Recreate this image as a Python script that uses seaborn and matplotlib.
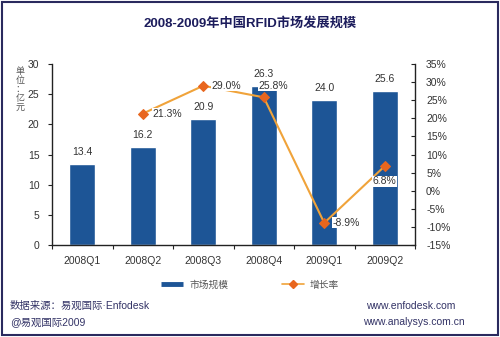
import numpy as np
import pandas as pd
import matplotlib
matplotlib.use("Agg")
import matplotlib.pyplot as plt
import seaborn as sns
from matplotlib.lines import Line2D
from matplotlib.patches import Rectangle

categories = ["2008Q1", "2008Q2", "2008Q3", "2008Q4", "2009Q1", "2009Q2"]
market_size = [13.4, 16.2, 20.9, 26.3, 24.0, 25.6]
growth_cats = ["2008Q2", "2008Q3", "2008Q4", "2009Q1", "2009Q2"]
growth_rate = [21.3, 29.0, 25.8, -8.9, 6.8]
left_ticks = [0, 5, 10, 15, 20, 25, 30]
right_ticks = [-15, -10, -5, 0, 5, 10, 15, 20, 25, 30, 35]

sns.set_style("white")
plt.rcParams['font.family'] = ['Liberation Sans', 'Noto Sans CJK SC', 'DejaVu Sans']

BAR = "#1d5596"
LINE = "#f0a33a"
MARK = "#e8661e"
TXT = "#333333"

fig = plt.figure(figsize=(5.0, 3.37), dpi=100)
ax = fig.add_axes([0.104, 0.273, 0.726, 0.537])

df = pd.DataFrame({"cat": categories, "val": market_size})
sns.barplot(data=df, x="cat", y="val", color=BAR, width=0.43, ax=ax,
            order=categories, saturation=1)
ax.set_xlim(-0.5, len(categories) - 0.5)
ax.set_ylim(0, 30)
ax.set_yticks(left_ticks)
ax.set_xlabel("")
ax.set_ylabel("")
for s in ["top", "right"]:
    ax.spines[s].set_visible(False)
for s in ["left", "bottom"]:
    ax.spines[s].set_color("#222222")
    ax.spines[s].set_linewidth(1.0)
ax.tick_params(axis="y", direction="out", length=3, width=0.8, colors="#222222",
               labelsize=7.5, labelcolor=TXT, pad=6, left=True)
ax.tick_params(axis="x", length=0, labelsize=7.5, labelcolor=TXT, pad=8)
ax.set_xticks(np.arange(-0.5, len(categories), 1.0), minor=True)
ax.tick_params(axis="x", which="minor", direction="out", length=3, width=0.8,
               bottom=True, colors="#222222")

for i, v in enumerate(market_size):
    ax.annotate(f"{v:.1f}", (i, v), xytext=(0, 5), textcoords="offset points",
                ha="center", va="bottom", fontsize=7.5, color=TXT)

ax2 = ax.twinx()
ax2.set_ylim(-15, 35)
ax2.set_yticks(right_ticks)
ax2.set_yticklabels([f"{t}%" for t in right_ticks])
gx = [categories.index(c) for c in growth_cats]
sns.lineplot(x=gx, y=growth_rate, ax=ax2, color=LINE, lw=1.5, marker="D",
             markersize=5.5, markerfacecolor=MARK, markeredgecolor=MARK)
for s in ["top", "left", "bottom"]:
    ax2.spines[s].set_visible(False)
ax2.spines["right"].set_color("#222222")
ax2.spines["right"].set_linewidth(1.0)
ax2.tick_params(axis="y", direction="in", length=3, width=0.8, colors="#222222",
                labelsize=7.5, labelcolor=TXT, pad=8, right=True)
ax2.set_xlim(-0.5, len(categories) - 0.5)

# label placement offsets (points) per growth label
offsets = [(7, 0, "left"), (6, 0, "left"), (-4, 8.5, "left"), (6, 0, "left"), (0, -11, "center")]
for x, v, (dx, dy, ha) in zip(gx, growth_rate, offsets):
    ax2.annotate(f"{v:.1f}%", (x, v), xytext=(dx, dy), textcoords="offset points",
                 ha=ha, va="center", fontsize=7.5, color=TXT,
                 bbox=dict(boxstyle="square,pad=0.05", fc="white", ec="none"))

fig.text(0.5, 0.932, "2008-2009年中国RFID市场发展规模", ha="center", va="center",
         fontsize=9.5, fontweight="bold", color="#1c1c5c")
fig.text(0.04, 0.80, "单\n位\n：\n亿\n元", ha="center", va="top", fontsize=6.5,
         color="#555555", linespacing=1.0)

handles = [Line2D([0], [0], color=BAR, lw=3.5, solid_capstyle="butt"),
           Line2D([0], [0], color=LINE, lw=1.2, marker="D", markersize=4,
                  markerfacecolor=MARK, markeredgecolor=MARK)]
fig.legend(handles, ["市场规模", "增长率"], loc="center", bbox_to_anchor=(0.5, 0.155),
           ncol=2, frameon=False, fontsize=7, columnspacing=5.5, handlelength=2.3,
           handletextpad=0.6, labelcolor="#555555")

fig.text(0.02, 0.093, "数据来源：易观国际·Enfodesk", ha="left", va="center",
         fontsize=7.5, color="#333366")
fig.text(0.02, 0.045, "@易观国际2009", ha="left", va="center",
         fontsize=7.5, color="#333366")
fig.text(0.91, 0.093, "www.enfodesk.com", ha="right", va="center",
         fontsize=7.5, color="#333366")
fig.text(0.93, 0.045, "www.analysys.com.cn", ha="right", va="center",
         fontsize=7.5, color="#333366")

fig.add_artist(Rectangle((0.004, 0.006), 0.992, 0.988, transform=fig.transFigure,
                         fill=False, edgecolor="#2a2a5e", lw=1.5))

fig.savefig("out.png", dpi=100)
